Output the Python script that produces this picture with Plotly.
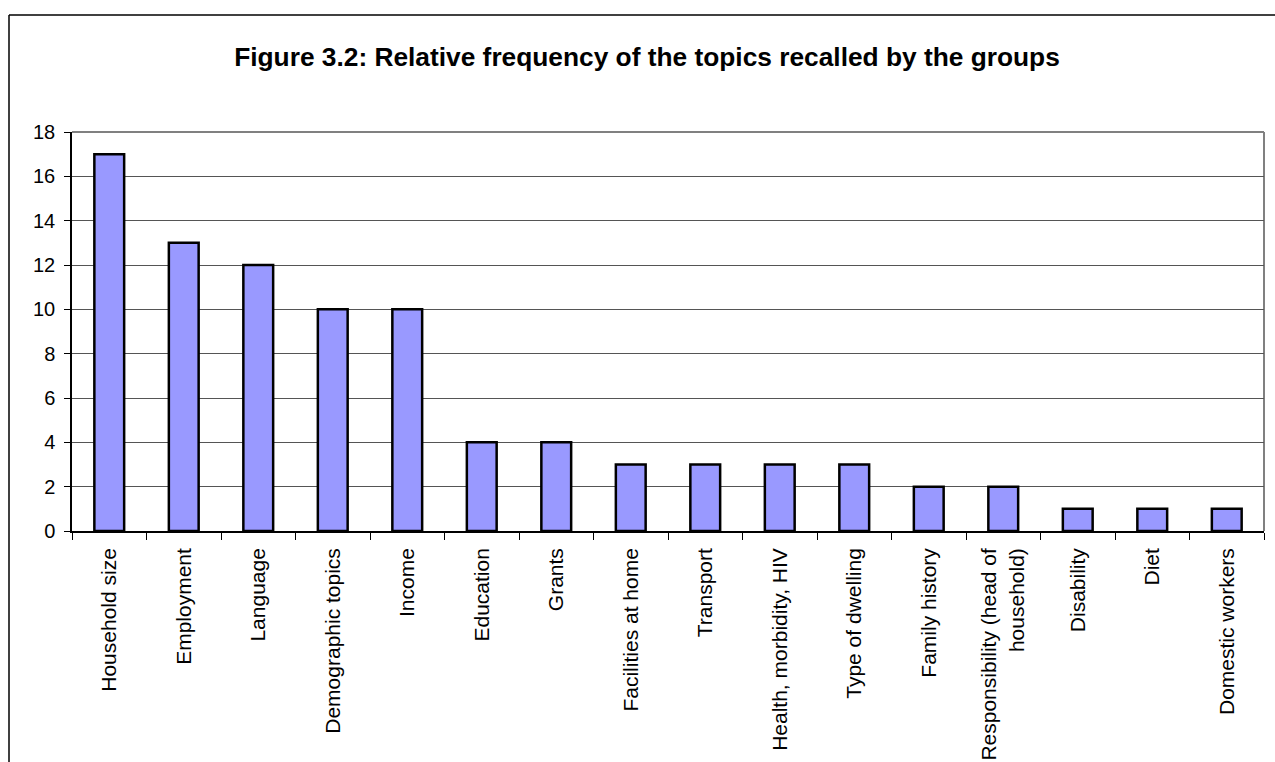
import plotly.graph_objects as go

topics = [
    "Household size", "Employment", "Language", "Demographic topics", "Income",
    "Education", "Grants", "Facilities at home", "Transport",
    "Health, morbidity, HIV", "Type of dwelling", "Family history",
    "Responsibility (head of<br>household)", "Disability", "Diet", "Domestic workers",
]
counts = [17, 13, 12, 10, 10, 4, 4, 3, 3, 3, 3, 2, 2, 1, 1, 1]
y_ticks = [0, 2, 4, 6, 8, 10, 12, 14, 16, 18]

FONT = "Liberation Sans, Arial, sans-serif"

fig = go.Figure(
    go.Bar(
        x=topics,
        y=counts,
        marker=dict(color="#9999FF", line=dict(color="#000000", width=2.5)),
        width=0.4,
        hoverinfo="x+y",
    )
)

W, H = 1275, 762
L, R, T, B = 72, 11, 132, 231
pw, ph = W - L - R, H - T - B

def px_x(p):
    return (p - L) / pw

def px_y(p):
    return (H - B - p) / ph

fig.update_layout(
    width=W,
    height=H,
    margin=dict(l=L, r=R, t=T, b=B, pad=0),
    paper_bgcolor="white",
    plot_bgcolor="white",
    showlegend=False,
    font=dict(family=FONT, size=21, color="black"),
    title=dict(
        text="<b>Figure 3.2: Relative frequency of the topics recalled by the groups</b>",
        x=647 / W,
        xanchor="center",
        y=1 - 57 / H,
        yanchor="middle",
        font=dict(family=FONT, size=26.3, color="black"),
    ),
    xaxis=dict(
        tickangle=-90,
        tickson="boundaries",
        ticks="outside",
        ticklen=7,
        tickwidth=1,
        tickcolor="black",
        ticklabelstandoff=7,
        showline=True,
        linecolor="black",
        linewidth=1.5,
        showgrid=False,
        automargin=False,
        tickfont=dict(family=FONT, size=21),
    ),
    yaxis=dict(
        range=[0, 18],
        tickvals=y_ticks,
        ticks="outside",
        ticklen=6,
        tickwidth=1,
        tickcolor="black",
        ticklabelstandoff=5,
        showline=True,
        linecolor="black",
        linewidth=1.5,
        showgrid=True,
        gridcolor="#555555",
        gridwidth=1,
        zeroline=False,
        automargin=False,
        tickfont=dict(family=FONT, size=20),
    ),
    shapes=[
        # plot-area frame, top and right edges
        dict(type="line", xref="paper", yref="paper", x0=0, x1=1, y0=1, y1=1,
             line=dict(color="#808080", width=2), layer="below"),
        dict(type="line", xref="paper", yref="paper", x0=1, x1=1, y0=0, y1=1,
             line=dict(color="#808080", width=2), layer="below"),
        # outer chart border
        dict(type="line", xref="paper", yref="paper",
             x0=px_x(9), x1=px_x(1290), y0=px_y(15), y1=px_y(15),
             line=dict(color="#000000", width=1.5)),
        dict(type="line", xref="paper", yref="paper",
             x0=px_x(9), x1=px_x(9), y0=px_y(15), y1=px_y(780),
             line=dict(color="#000000", width=1.5)),
    ],
)

fig.write_html("out.html")
